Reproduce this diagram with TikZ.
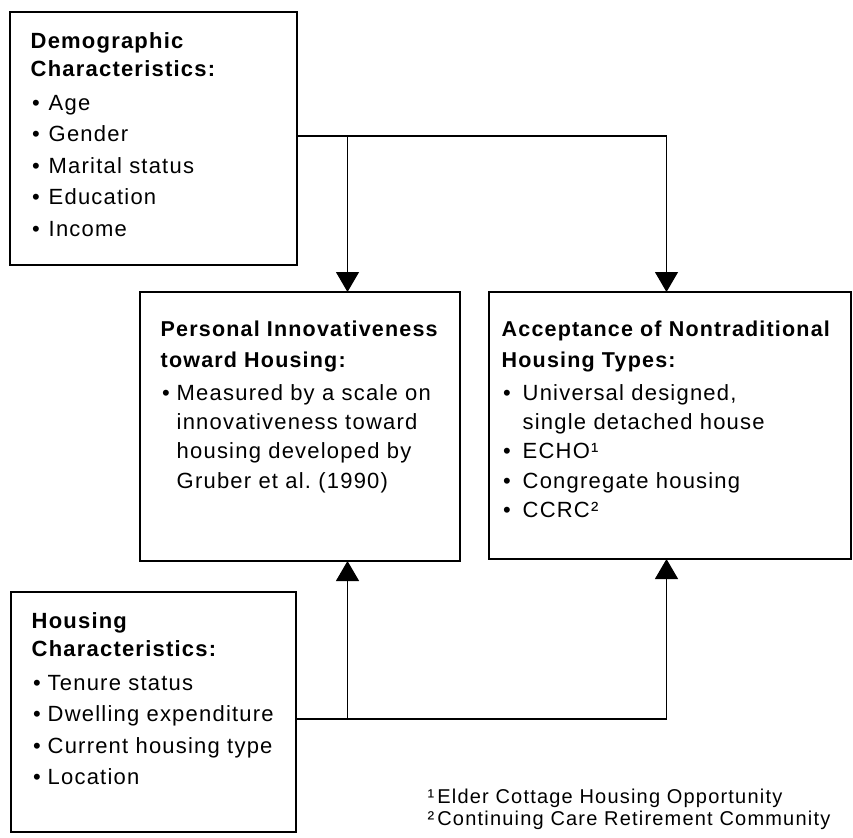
\documentclass[tikz,border=0pt]{standalone}
\usepackage{fontspec}
\setmainfont{Liberation Sans}
\newfontfamily\bodyf{Liberation Sans}[LetterSpace=5.5,WordSpace=1.3]
\newfontfamily\headf{Liberation Sans}[LetterSpace=5.5]
\newfontfamily\notef{Liberation Sans}[LetterSpace=6]
\usetikzlibrary{arrows.meta}
\newcommand\bul[1]{\makebox[#1][l]{\hspace{1.5pt}\textbullet}}
\newcommand\hd[1]{{\headf\bfseries #1}}
\newcommand\hdm[1]{{\headf\bfseries\fontsize{21.5}{29.3}\selectfont #1}}
\begin{document}
\begin{tikzpicture}[x=1pt,y=-1pt,
  box/.style={draw, line width=1.2pt, rectangle, anchor=north west, inner sep=0pt, outer sep=0pt},
  txtl/.style={anchor=north west, inner sep=0pt, align=left, font=\bodyf\fontsize{22}{28}\selectfont},
  txtm/.style={anchor=north west, inner sep=0pt, align=left, font=\bodyf\fontsize{22}{29.3}\selectfont},
  conn/.style={line width=1.2pt},
  arr/.style={conn, -{Triangle[width=23pt,length=20pt]}}]
\useasboundingbox (0,0) rectangle (853,837);

% boxes
\node[box, minimum width=287pt, minimum height=253pt] (demo) at (10,12) {};
\node[box, minimum width=320pt, minimum height=269pt] (pi) at (140,292) {};
\node[box, minimum width=362pt, minimum height=267pt] (acc) at (489,292) {};
\node[box, minimum width=285pt, minimum height=240pt] (hous) at (11,592) {};

% texts
\node[txtl] (demotxt) at (30.5,32.3) {\hd{Demographic}\\
  \hd{Characteristics:}\\[6pt]
  \bul{18pt}Age\\[3.5pt]
  \bul{18pt}Gender\\[3.5pt]
  \bul{18pt}Marital status\\[3.5pt]
  \bul{18pt}Education\\[3.5pt]
  \bul{18pt}Income};

\node[txtm] (pitxt) at (160.5,320.6) {\hdm{Personal Innovativeness}\\[1.7pt]
  \hdm{toward Housing:}\\[3.7pt]
  \bul{16pt}Measured by a scale on\\
  \hspace{16pt}innovativeness toward\\
  \hspace{16pt}housing developed by\\
  \hspace{16pt}Gruber et al.\ (1990)};

\node[txtm] (acctxt) at (501.5,320.6) {\hdm{Acceptance of Nontraditional}\\[1.7pt]
  \hdm{Housing Types:}\\[3.7pt]
  \bul{21pt}Universal designed,\\
  \hspace{21pt}single detached house\\
  \bul{21pt}ECHO¹\\
  \bul{21pt}Congregate housing\\
  \bul{21pt}CCRC²};

\node[txtl] (houstxt) at (31.5,612.3) {\hd{Housing}\\
  \hd{Characteristics:}\\[6pt]
  \bul{16pt}Tenure status\\[3.5pt]
  \bul{16pt}Dwelling expenditure\\[3.5pt]
  \bul{16pt}Current housing type\\[3.5pt]
  \bul{16pt}Location};

\node[anchor=north west, inner sep=0pt, align=left, font=\notef\fontsize{20}{22}\selectfont] (notes) at (427.5,789)
  {¹\kern3pt Elder Cottage Housing Opportunity\\
   ²\kern3pt Continuing Care Retirement Community};

% bus coordinates
\coordinate (topbus) at (0,136);
\coordinate (botbus) at (0,719);
\coordinate (pix) at (347.5,0);
\coordinate (accx) at (666.5,0);

% connectors
\draw[arr] (demo.east |- topbus) -- (accx |- topbus) -- (accx |- acc.north);
\draw[arr] (pix |- topbus) -- (pix |- pi.north);
\draw[arr] (hous.east |- botbus) -- (accx |- botbus) -- (accx |- acc.south);
\draw[arr] (pix |- botbus) -- (pix |- pi.south);
\end{tikzpicture}
\end{document}
